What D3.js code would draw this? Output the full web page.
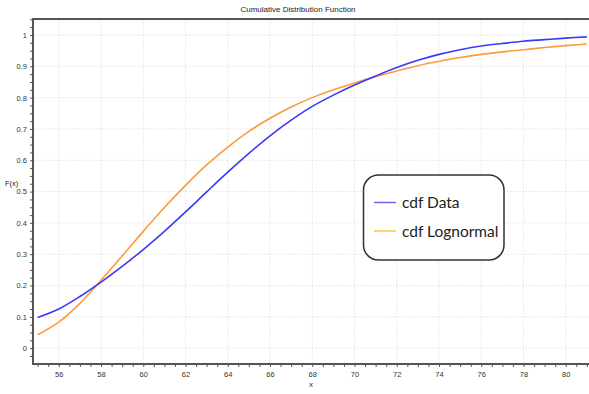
<!DOCTYPE html>
<html>
<head>
<meta charset="utf-8">
<script src="https://cdn.jsdelivr.net/npm/d3@7/dist/d3.min.js"></script>
<style>
  html, body { margin: 0; padding: 0; background: #fff; }
  svg { display: block; }
</style>
</head>
<body>
<svg id="chart" width="589" height="394"></svg>
<script>
// ---- data ----
const xValues = [55,56,57,58,59,60,61,62,63,64,65,66,67,68,69,70,71,72,73,74,75,76,77,78,79,80,81];
const cdfData = [0.098,0.125,0.165,0.211,0.261,0.315,0.373,0.435,0.499,0.562,0.622,0.678,0.728,0.772,0.808,0.840,0.869,0.896,0.919,0.938,0.953,0.965,0.973,0.980,0.985,0.990,0.994];
const cdfLognormal = [0.043,0.083,0.143,0.217,0.294,0.373,0.449,0.520,0.585,0.642,0.692,0.734,0.770,0.800,0.825,0.847,0.867,0.885,0.902,0.916,0.928,0.938,0.946,0.953,0.960,0.966,0.971];
const xTicks = [56,58,60,62,64,66,68,70,72,74,76,78,80];
const yTicks = [0,0.1,0.2,0.3,0.4,0.5,0.6,0.7,0.8,0.9,1];
const seriesNames = ["cdf Data", "cdf Lognormal"];
const titleText = "Cumulative Distribution Function";

// ---- layout ----
const svg = d3.select("#chart");
const L = 33, R = 589, T = 19, B = 364;
const x = d3.scaleLinear().domain([54.78, 81.1]).range([L, R]);
const y = d3.scaleLinear().domain([-0.0505, 1.051]).range([B, T]);
const axisColor = "#555";
const labelColor = "#333";
const fontFam = "'Liberation Sans', Arial, sans-serif";

// grid
const grid = svg.append("g");
grid.selectAll("line.vx").data(xTicks).join("line")
  .attr("x1", d => x(d)).attr("x2", d => x(d)).attr("y1", T).attr("y2", B)
  .attr("stroke", "#ebebeb").attr("stroke-width", 1).attr("stroke-dasharray", "2,1");
grid.selectAll("line.hy").data(yTicks).join("line")
  .attr("x1", L).attr("x2", R).attr("y1", d => y(d)).attr("y2", d => y(d))
  .attr("stroke", "#ebebeb").attr("stroke-width", 1).attr("stroke-dasharray", "2,1");

// axes
const xMinor = d3.range(55, 81.01, 0.5);
const yMinor = d3.range(-0.025, 1.051, 0.025);
const xAxis = d3.axisBottom(x).tickValues(xMinor).tickSize(3)
  .tickFormat(d => xTicks.includes(Math.round(d*100)/100) ? d3.format("d")(d) : "");
const yAxis = d3.axisLeft(y).tickValues(yMinor).tickSize(3)
  .tickFormat(d => { const r = Math.round(d*1000)/1000; return yTicks.some(t => Math.abs(t-r) < 1e-9) ? d3.format("~g")(r) : ""; });

const gx = svg.append("g").attr("transform", `translate(0,${B})`).call(xAxis);
const gy = svg.append("g").attr("transform", `translate(${L},0)`).call(yAxis);
[gx, gy].forEach(g => {
  g.select(".domain").remove();
  g.selectAll(".tick line").attr("stroke", axisColor).attr("stroke-width", 1);
  g.selectAll(".tick text").attr("fill", labelColor).attr("font-size", 7.5).attr("font-family", fontFam);
});
gx.selectAll(".tick text").attr("dy", "1.0em").attr("y", 5);
gy.selectAll(".tick text").attr("x", -6);

// frame lines
svg.append("line").attr("x1", L).attr("x2", L).attr("y1", T).attr("y2", B + 1)
  .attr("stroke", axisColor).attr("stroke-width", 2);
svg.append("line").attr("x1", L - 1).attr("x2", R).attr("y1", B).attr("y2", B)
  .attr("stroke", axisColor).attr("stroke-width", 2);
svg.append("line").attr("x1", L - 1).attr("x2", R).attr("y1", T).attr("y2", T)
  .attr("stroke", axisColor).attr("stroke-width", 2);

// clip
svg.append("clipPath").attr("id", "clip").append("rect")
  .attr("x", L + 1).attr("y", T + 1).attr("width", R - L - 1).attr("height", B - T - 2);

const line = d3.line().x(d => x(d[0])).y(d => y(d[1])).curve(d3.curveCatmullRom);
const plot = svg.append("g").attr("clip-path", "url(#clip)");
plot.append("path").datum(xValues.map((v, i) => [v, cdfLognormal[i]]))
  .attr("d", line).attr("fill", "none").attr("stroke", "#ff9a38").attr("stroke-width", 1.6);
plot.append("path").datum(xValues.map((v, i) => [v, cdfData[i]]))
  .attr("d", line).attr("fill", "none").attr("stroke", "#3a3af5").attr("stroke-width", 1.6);

// title and axis labels
svg.append("text").attr("x", 298).attr("y", 12).attr("text-anchor", "middle")
  .attr("font-size", 8).attr("font-family", fontFam).attr("fill", "#222").text(titleText);
svg.append("text").attr("x", 5).attr("y", 186)
  .attr("font-size", 7.5).attr("font-family", fontFam).attr("fill", "#222").text("F(x)");
svg.append("text").attr("x", 311).attr("y", 387).attr("text-anchor", "middle")
  .attr("font-size", 8).attr("font-family", fontFam).attr("fill", "#333").text("x");

// legend
const lg = svg.append("g");
lg.append("rect").attr("x", 363.5).attr("y", 175).attr("width", 140.5).attr("height", 85)
  .attr("rx", 15).attr("ry", 15).attr("fill", "#fff").attr("stroke", "#333").attr("stroke-width", 1.5);
const legColors = ["#6b6bef", "#ffc630"];
const legY = [202.5, 231];
seriesNames.forEach((n, i) => {
  lg.append("line").attr("x1", 374).attr("x2", 396).attr("y1", legY[i]).attr("y2", legY[i])
    .attr("stroke", legColors[i]).attr("stroke-width", 1.5);
  lg.append("text").attr("x", 402).attr("y", legY[i] + 5.5)
    .attr("font-size", 15.5).attr("font-family", "Lato, 'Open Sans', sans-serif").attr("fill", "#222").text(n);
});
</script>
</body>
</html>
